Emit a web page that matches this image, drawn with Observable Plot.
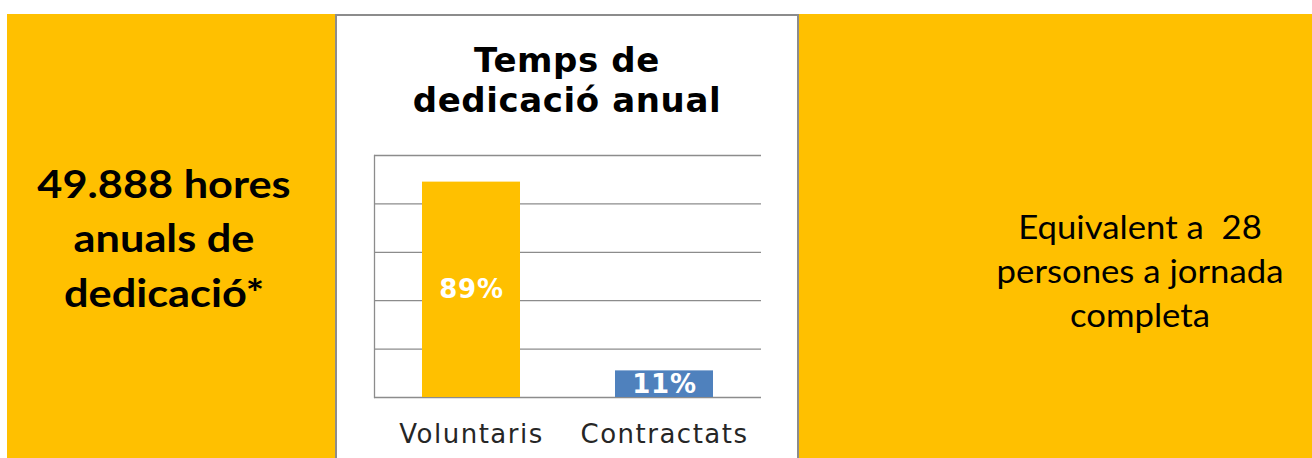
<!DOCTYPE html>
<html>
<head>
<meta charset="utf-8">
<script src="https://cdn.jsdelivr.net/npm/d3@7"></script>
<script src="https://cdn.jsdelivr.net/npm/@observablehq/plot@0.6"></script>
<style>
  html, body { margin: 0; padding: 0; background: #ffffff; }
  body { width: 1312px; height: 458px; position: relative; overflow: hidden; }
  #yellow { position: absolute; left: 7px; top: 14px; width: 1305px; height: 444px; background: #FFC000; }
  #panel { position: absolute; left: 335px; top: 14px; width: 464px; height: 460px; box-sizing: border-box;
           border: 2px solid #8c8c8c; background: #ffffff; }
  .txt { position: absolute; text-align: center; color: #000; white-space: nowrap; }
  #left { left: 7px; width: 314px; top: 155.6px; font-family: Lato, "Noto Sans", sans-serif; font-weight: bold;
          font-size: 39px; line-height: 54.5px; transform: scaleX(1.11); transform-origin: 157px 0; }
  #right { left: 990px; width: 300px; top: 204.6px; font-family: Lato, "Noto Sans", sans-serif;
           font-size: 32px; line-height: 44px; transform: scaleX(1.085); transform-origin: 150px 0; }
  #title { left: 337px; width: 460px; top: 40px; font-family: "DejaVu Sans", sans-serif; font-weight: bold;
           font-size: 34px; line-height: 40px; letter-spacing: 0.6px; color: #000; }
  #chart { position: absolute; left: 337px; top: 140px; }
  #chart g[aria-label="x-axis tick label"] text { letter-spacing: 1.5px; }
  #chart g[aria-label="text"] text { letter-spacing: 0.8px; }
</style>
</head>
<body>
<div id="yellow"></div>
<div id="panel"></div>
<div id="left" class="txt">49.888 hores<br>anuals de<br>dedicació*</div>
<div id="right" class="txt">Equivalent a&nbsp; 28<br>persones a jornada<br>completa</div>
<div id="title" class="txt">Temps de<br>dedicació anual</div>
<div id="chart"></div>
<script>
const categories = ["Voluntaris", "Contractats"];
const shares = [0.89, 0.11];
const shareLabels = ["89%", "11%"];
const barColors = ["#FFC000", "#4F81BD"];
const gridTicks = [0, 0.2, 0.4, 0.6, 0.8, 1.0];

const data = categories.map((c, i) => ({cat: c, share: shares[i], label: shareLabels[i]}));

const chart = Plot.plot({
  width: 459,
  height: 318,
  marginTop: 15,
  marginBottom: 61,
  marginLeft: 37,
  marginRight: 35,
  style: {fontFamily: "DejaVu Sans, sans-serif", color: "#262626", background: "transparent"},
  x: {domain: categories, paddingInner: 0.49, paddingOuter: 0.245, label: null},
  y: {domain: [0, 1], axis: null},
  color: {domain: categories, range: barColors},
  marks: [
    Plot.ruleY(gridTicks, {stroke: "#8c8c8c", strokeWidth: 1.3}),
    Plot.frame({anchor: "left", stroke: "#8c8c8c", strokeWidth: 1.3}),
    Plot.barY(data, {x: "cat", y: "share", fill: "cat"}),
    Plot.text(data, {x: "cat", y: d => d.share / 2, text: "label", fill: "white",
                     fontWeight: "bold", fontSize: 26}),
    Plot.axisX({tickSize: 0, tickPadding: 27, fontSize: 26, fill: "#262626"})
  ]
});
document.getElementById("chart").appendChild(chart);
</script>
</body>
</html>
